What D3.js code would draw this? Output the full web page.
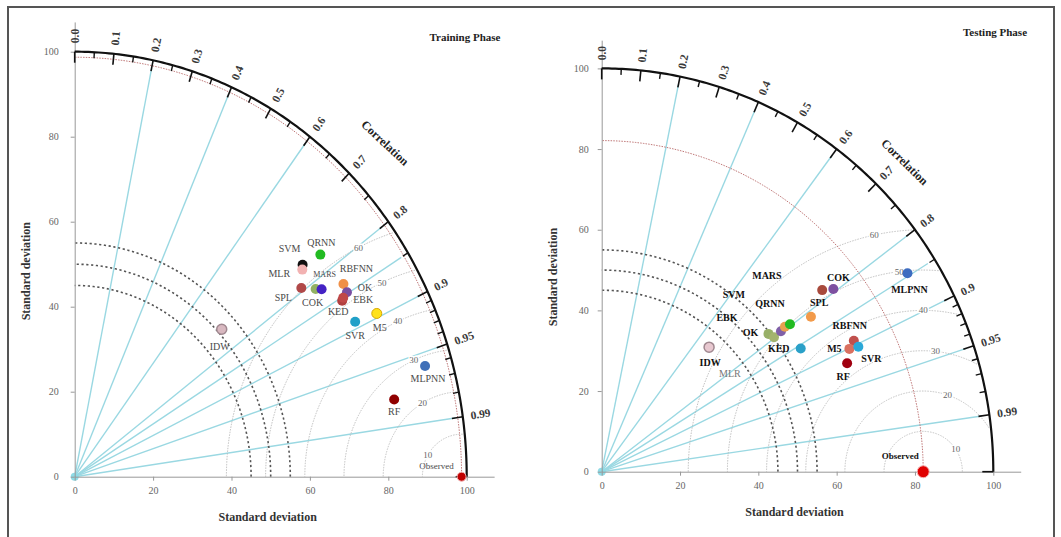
<!DOCTYPE html>
<html><head><meta charset="utf-8">
<script src="https://cdn.jsdelivr.net/npm/d3@7"></script>
<style>
body{margin:0;background:#fff;}
svg text{font-family:"Liberation Serif","Times New Roman",serif;}
</style></head>
<body><svg id="c" width="1061" height="537"></svg>
<script>
// ---------- DATA ----------
const corrTicks = [0.0,0.1,0.2,0.3,0.4,0.5,0.6,0.7,0.8,0.9,0.95,0.99];
const corrTickLabels = ["0.0","0.1","0.2","0.3","0.4","0.5","0.6","0.7","0.8","0.9","0.95","0.99"];
const corrMinor = [0.05,0.15,0.25,0.35,0.45,0.55,0.65,0.75,0.85,0.91,0.92,0.93,0.94,0.96,0.97,0.98];
const corrLines = [0.2,0.4,0.6,0.8,0.85,0.9,0.95,0.99];
const stdTicks = [0,20,40,60,80,100];
const rmsLevels = [10,20,30,40,50,60];
const refArcs = [45,50,55];

const trainModels = ["SVM","MLR","QRNN","SPL","COK","MARS","RBFNN","OK","KED","EBK","M5","SVR","MLPNN","RF","IDW"];
const trainStd    = [76.6, 75.8, 81.6, 72.9, 75.7, 76.9, 82.2, 81.9, 79.8, 80.4, 86.1, 80.3, 93.1, 83.5, 51.1];
const trainCorr   = [0.759,0.766,0.768,0.793,0.812,0.819,0.834,0.848,0.855,0.852,0.895,0.891,0.960,0.976,0.734];
const trainColors = ["#111111","#f2b2b2","#22bb22","#b04848","#92b262","#4422c4","#f09048","#7a4ea0","#b04040","#c04848","#ffe21a","#20a0c8","#4070b8","#900000","#d8b8c0"];
const trainObsStd = 98.7;

const testModels = ["IDW","OK","EBK","SVM","MLR","QRNN","MARS","KED","SPL","COK","MLPNN","RBFNN","M5","SVR","RF"];
const testStd    = [41.3, 54.6, 55.2, 57.5, 59.0, 60.4, 65.8, 59.3, 72.1, 74.5, 92.3, 72.1, 70.2, 72.5, 68.2];
const testCorr   = [0.664,0.780,0.797,0.796,0.793,0.796,0.812,0.857,0.781,0.794,0.846,0.893,0.901,0.904,0.919];
const testColors = ["#e8c8d0","#98b068","#a4b46e","#8060a8","#e8a050","#22bb22","#f29a4a","#2aa0c8","#a84a3c","#7d50a0","#3d6cc0","#c0504d","#d97060","#2aa8d8","#a00010"];
const testObsStd = 82.1;

// ---------- LAYOUT (pixel offsets / placement only) ----------
const trainLabelOff = {SVM:[-13,-16],MLR:[-23,4],QRNN:[1,-12],SPL:[-18,10],COK:[-3,14],MARS:[3,-15],RBFNN:[13,-15],OK:[18,-5],KED:[-4,11],EBK:[20,2],M5:[3,14],SVR:[0,14],MLPNN:[3,13],RF:[0,12],IDW:[-2,17]};
const testLabelOff = {IDW:[1,15],OK:[-18,-1],EBK:[-47,-20],SVM:[-47,-37],MLR:[-55,47],QRNN:[-20,-21],MARS:[-44,-41],KED:[-22,0],SPL:[-3,12],COK:[5,-12],MLPNN:[2,16],RBFNN:[-4,-15],M5:[-15,0],SVR:[13,12],RF:[-4,13]};
const trainRmsAng = [150,120,114,114,114,116];
const testRmsAng  = [34,72,84,90,97,102];

const svg = d3.select("#c");
svg.append("rect").attr("x",8).attr("y",7).attr("width",1046).attr("height",545)
  .attr("fill","none").attr("stroke","#555").attr("stroke-width",2);

function drawPanel(cfg){
  const g = svg.append("g");
  const x = d3.scaleLinear().domain([0,107]).range([cfg.ox, cfg.ox + 107*cfg.sx]);
  const y = d3.scaleLinear().domain([0,107]).range([cfg.oy, cfg.oy - 107*cfg.sy]);
  const P = (s,r) => [x(s*r), y(s*Math.sqrt(Math.max(0,1-r*r)))];
  const line = d3.line();
  const arc = (R) => d3.range(0,181).map(i=>{const a=Math.PI/2*i/180;return [x(R*Math.cos(a)), y(R*Math.sin(a))];});
  const ox = x(0), oy = y(0);

  // correlation rays
  corrLines.forEach(c=>{
    const p = P(98,c);
    g.append("line").attr("x1",ox).attr("y1",oy).attr("x2",p[0]).attr("y2",p[1])
      .attr("stroke","#9ad8e2").attr("stroke-width",1.4);
  });
  g.append("circle").attr("cx",ox).attr("cy",oy).attr("r",4).attr("fill","#8fdbe6");

  // RMSD contours
  rmsLevels.forEach((L,i)=>{
    const segs=[]; let cur=[];
    for(let k=0;k<=720;k++){
      const a=Math.PI*k/720;
      const dx=cfg.obs+L*Math.cos(a), dy=L*Math.sin(a);
      if(dx>=0 && Math.hypot(dx,dy)<=99.5){cur.push([x(dx),y(dy)]);}
      else {if(cur.length>1)segs.push(cur);cur=[];}
    }
    if(cur.length>1)segs.push(cur);
    segs.forEach(s=>g.append("path").attr("d",line(s)).attr("fill","none")
      .attr("stroke","#b8b8b8").attr("stroke-width",0.9).attr("stroke-dasharray","1.5,1.2"));
    const a=cfg.rmsAng[i]*Math.PI/180;
    g.append("text").attr("x",x(cfg.obs+L*Math.cos(a))).attr("y",y(L*Math.sin(a)))
      .attr("text-anchor","middle").attr("dominant-baseline","central")
      .attr("font-size",9).attr("fill","#666")
      .attr("stroke","#fff").attr("stroke-width",3).attr("paint-order","stroke").text(L);
  });

  // reference dashed arcs
  refArcs.forEach(R=>{
    g.append("path").attr("d",line(arc(R))).attr("fill","none")
      .attr("stroke","#555").attr("stroke-width",1.6).attr("stroke-dasharray","2.2,2.6");
  });
  // observed std arc
  g.append("path").attr("d",line(arc(cfg.obs))).attr("fill","none")
    .attr("stroke","#c07878").attr("stroke-width",1).attr("stroke-dasharray","1.5,1.2");

  // axes
  const xa = g.append("g").attr("transform",`translate(0,${oy})`)
    .call(d3.axisBottom(x).tickValues(stdTicks).tickSize(4).tickSizeOuter(0));
  const ya = g.append("g").attr("transform",`translate(${ox},0)`)
    .call(d3.axisLeft(y).tickValues(stdTicks).tickSize(4).tickSizeOuter(0));
  [xa,ya].forEach(a=>{
    a.select(".domain").attr("stroke","#999");
    a.selectAll(".tick line").attr("stroke","#999");
    a.selectAll(".tick text").attr("font-family","Liberation Serif, serif").attr("font-size",10).attr("fill","#666");
  });
  xa.selectAll(".tick text").attr("dy","1.05em");
  ya.selectAll(".tick text").attr("dx",cfg.yTickDx);

  // outer arc
  g.append("path").attr("d",line(arc(100))).attr("fill","none").attr("stroke","#111").attr("stroke-width",2.2);
  const tick = (c,len,w)=>{
    const p=P(100,c); const vx=p[0]-ox, vy=p[1]-oy; const n=Math.hypot(vx,vy);
    g.append("line").attr("x1",p[0]).attr("y1",p[1]).attr("x2",p[0]-vx/n*len).attr("y2",p[1]-vy/n*len)
      .attr("stroke","#111").attr("stroke-width",w);
  };
  corrTicks.concat([1.0]).forEach(c=>tick(c,11,1.6));
  corrMinor.forEach(c=>tick(c,6,1.4));
  corrTicks.forEach((c,i)=>{
    const p=P(102,c); const ang=Math.atan2(oy-p[1],p[0]-ox)*180/Math.PI;
    g.append("text").attr("x",p[0]).attr("y",p[1]).attr("text-anchor","start").attr("dominant-baseline","central")
      .attr("transform",`rotate(${-ang},${p[0]},${p[1]})`)
      .attr("font-size",11.5).attr("font-weight","bold").attr("fill","#3a3a3a").text(corrTickLabels[i]);
  });
  {
    const p=P(cfg.corrTitleR,0.71); const ang=Math.atan2(oy-p[1],p[0]-ox)*180/Math.PI;
    g.append("text").attr("x",p[0]).attr("y",p[1]).attr("text-anchor","middle").attr("dominant-baseline","central")
      .attr("transform",`rotate(${90-ang},${p[0]},${p[1]})`)
      .attr("font-size",12).attr("font-weight","bold").attr("fill","#222").text("Correlation");
  }

  // titles
  g.append("text").attr("x",cfg.titleX).attr("y",cfg.titleY).attr("text-anchor","middle")
    .attr("font-size",11).attr("font-weight","bold").attr("fill","#222").text(cfg.title);
  g.append("text").attr("x",x(50)-3).attr("y",oy+44).attr("text-anchor","middle")
    .attr("font-size",12).attr("font-weight","bold").attr("fill","#333").text("Standard deviation");
  const yl=[ox-45, y(50)+7];
  g.append("text").attr("x",yl[0]).attr("y",yl[1]).attr("text-anchor","middle")
    .attr("transform",`rotate(-90,${yl[0]},${yl[1]})`)
    .attr("font-size",12).attr("font-weight","bold").attr("fill","#333").text("Standard deviation");

  // model points
  cfg.models.forEach((m,i)=>{
    const p=P(cfg.std[i],cfg.corr[i]);
    const isIDW = m==="IDW", isM5 = (m==="M5" && cfg.m5stroke);
    g.append("circle").attr("cx",p[0]).attr("cy",p[1]).attr("r",5)
      .attr("fill",cfg.colors[i])
      .attr("stroke", isIDW ? "#a08890" : (isM5 ? "#d8a800" : "none"))
      .attr("stroke-width", isIDW ? 1.5 : 1);
  });
  cfg.models.forEach((m,i)=>{
    const p=P(cfg.std[i],cfg.corr[i]); const o=cfg.off[m];
    const small = cfg.smallLabel===m, gray = cfg.grayLabel===m;
    g.append("text").attr("x",p[0]+o[0]).attr("y",p[1]+o[1]).attr("text-anchor","middle").attr("dominant-baseline","central")
      .attr("font-size", small?8:10).attr("font-weight", (cfg.bold && !gray)?"bold":"normal")
      .attr("fill", gray ? "#777" : cfg.labelColor).text(m);
  });
  // observed
  const po=P(cfg.obs,1);
  g.append("circle").attr("cx",po[0]).attr("cy",po[1]).attr("r",cfg.obsR).attr("fill",cfg.obsColor)
    .attr("stroke","#f4b0b0").attr("stroke-width",1);
  g.append("text").attr("x",po[0]+cfg.obsOff[0]).attr("y",po[1]+cfg.obsOff[1]).attr("text-anchor","middle")
    .attr("dominant-baseline","central").attr("font-size",9).attr("font-weight",cfg.bold?"bold":"normal")
    .attr("fill",cfg.labelColor).text("Observed");
}

drawPanel({ox:74.7, oy:476.7, sx:3.92, sy:4.25, obs:trainObsStd, models:trainModels, std:trainStd, corr:trainCorr,
  colors:trainColors, off:trainLabelOff, rmsAng:trainRmsAng, title:"Training Phase", titleX:465, titleY:41,
  bold:false, labelColor:"#4a4a4a", smallLabel:"MARS", grayLabel:null, m5stroke:true,
  obsR:4.5, obsColor:"#c00000", obsOff:[-25,-11], corrTitleR:111.5, yTickDx:"-0.9em"});
drawPanel({ox:601.7, oy:471.7, sx:3.916, sy:4.033, obs:testObsStd, models:testModels, std:testStd, corr:testCorr,
  colors:testColors, off:testLabelOff, rmsAng:testRmsAng, title:"Testing Phase", titleX:995, titleY:36,
  bold:true, labelColor:"#111", smallLabel:null, grayLabel:"MLR", m5stroke:false,
  obsR:6, obsColor:"#e00000", obsOff:[-23,-16], corrTitleR:109, yTickDx:"-0.6em"});
</script></body></html>
